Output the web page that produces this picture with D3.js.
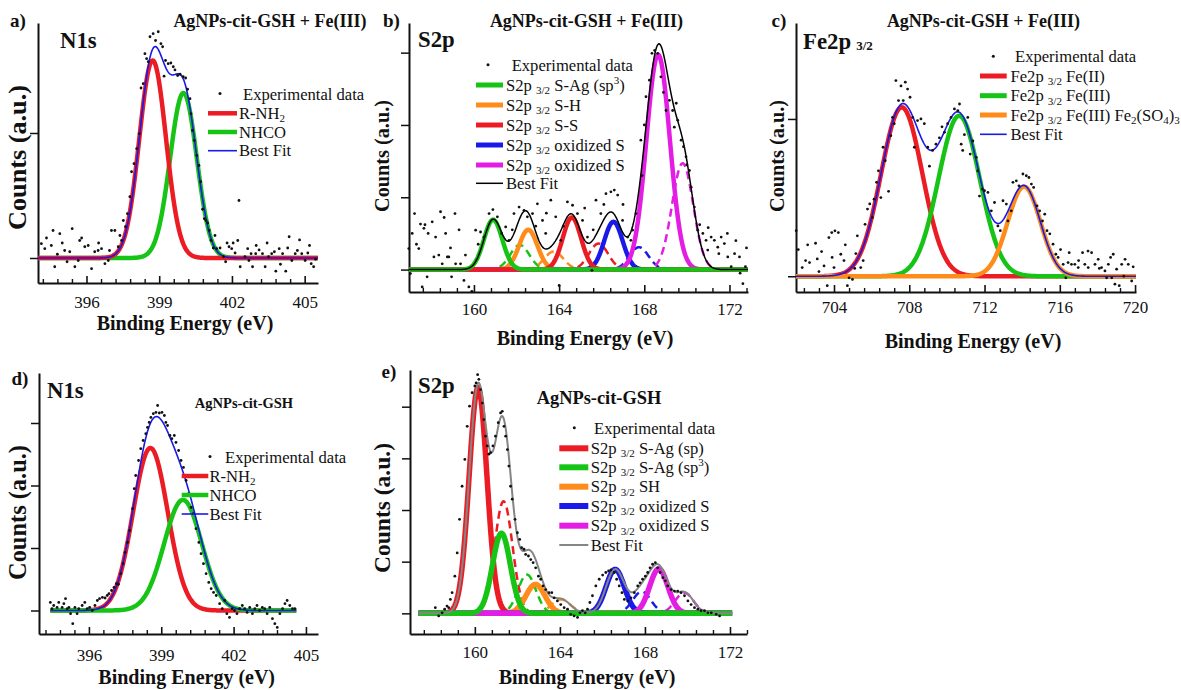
<!DOCTYPE html>
<html><head><meta charset="utf-8">
<script src="https://cdn.jsdelivr.net/npm/d3@7"></script>
<style>
body{margin:0;background:#fff}
svg text{font-family:"Liberation Serif","Times New Roman",serif;fill:#111}
</style>
</head><body>
<svg id="chart" width="1181" height="690"></svg>
<script>
// ---------------- DATA ----------------
// tick labels
const aTicks=[396,399,402,405], aYTicks=[0,1];
const bTicks=[160,164,168,172], bYTicks=[0,1,2,3];
const cTicks=[704,708,712,716,720], cYTicks=[0,1];
const dTicks=[396,399,402,405], dYTicks=[0,1,2,3];
const eTicks=[160,164,168,172], eYTicks=[0,1,2,3,4];

// fitted peaks: [centre (eV), height (a.u.), sigma (eV)]
const aPeaks=[[398.73,1.58,0.55],[400.0,1.32,0.55]];               // R-NH2, NHCO
const bPeaks=[[160.9,0.69,0.43],[162.15,0.34,0.45],                 // S-Ag sp3 (solid, dashed)
              [162.55,0.55,0.43],[163.75,0.25,0.45],                // S-H
              [164.6,0.72,0.43],[165.85,0.36,0.45],                 // S-S
              [166.55,0.66,0.43],[167.75,0.31,0.45],                // oxidized S (blue)
              [168.65,2.97,0.55],[169.8,1.47,0.5]];                 // oxidized S (magenta)
const cPeaks=[[707.6,1.074,1.1],[710.65,1.02,1.1],[714.1,0.57,0.87]]; // Fe(II), Fe(III), Fe2(SO4)3
const dPeaks=[[398.55,2.6,0.72],[399.9,1.77,0.78]];                  // R-NH2, NHCO
const ePeaks=[[160.15,4.37,0.42],[161.35,2.17,0.42],                 // S-Ag sp
              [161.25,1.55,0.42],[162.45,0.75,0.42],                 // S-Ag sp3
              [162.85,0.56,0.45],[164.05,0.27,0.45],                 // SH
              [166.6,0.85,0.43],[167.85,0.42,0.43],                  // oxidized S (blue)
              [168.65,0.86,0.43],[169.85,0.40,0.43]];                // oxidized S (magenta)

// legend labels
const aLegend=["Experimental data","R-NH_{2}","NHCO","Best Fit"];
const bLegend=["Experimental data","S2p _{3/2} S-Ag (sp^{3})","S2p _{3/2} S-H","S2p _{3/2} S-S","S2p _{3/2} oxidized S","S2p _{3/2} oxidized S","Best Fit"];
const cLegend=["Experimental data","Fe2p _{3/2} Fe(II)","Fe2p _{3/2} Fe(III)","Fe2p _{3/2} Fe(III) Fe_{2}(SO_{4})_{3}","Best Fit"];
const dLegend=["Experimental data","R-NH_{2}","NHCO","Best Fit"];
const eLegend=["Experimental data","S2p _{3/2} S-Ag (sp)","S2p _{3/2} S-Ag (sp^{3})","S2p _{3/2} SH","S2p _{3/2} oxidized S","S2p _{3/2} oxidized S","Best Fit"];

// experimental data points [eV, counts a.u.]
const aExp=[[394.14,0.115],[394.28,0.075],[394.35,0.16],[394.55,0.10],[394.62,0.22],[394.69,-0.07],[394.8,0.03],[394.90,0.195],[395.0,0.12],[395.10,0.06],[395.2,-0.03],[395.31,0.05],[395.41,0.235],[395.52,-0.07],[395.66,-0.02],[395.72,0.14],[395.8,0.16],[395.93,0.09],[396.07,0.10],[396.21,-0.085],[396.34,0.05],[396.48,0.06],[396.5,0.12],[396.62,0.075],[396.76,-0.045],[396.90,-0.02],[396.95,0.06],[397.03,0.22],[397.17,0.22],[397.31,0.09],[397.38,0.18],[397.45,0.14],[397.52,0.30],[397.61,0.25],[397.69,0.355],[397.79,0.49],[397.86,0.69],[397.96,0.755],[398.07,0.875],[398.18,0.995],[398.25,1.36],[398.34,1.395],[398.41,1.635],[398.48,1.595],[398.55,1.57],[398.62,1.77],[398.75,1.795],[398.85,1.74],[398.96,1.81],[399.07,1.715],[399.14,1.69],[399.20,1.455],[399.26,1.58],[399.37,1.555],[399.48,1.56],[399.58,1.53],[399.65,1.505],[399.76,1.46],[399.86,1.47],[399.99,1.45],[400.09,1.44],[400.17,1.35],[400.27,1.275],[400.31,1.155],[400.37,1.02],[400.45,0.94],[400.55,0.82],[400.64,0.74],[400.71,0.61],[400.79,0.39],[400.86,0.315],[400.93,0.30],[401.00,0.28],[401.06,0.22],[401.14,0.14],[401.23,0.08],[401.3,0.18],[401.37,0.075],[401.51,0.08],[401.65,0.01],[401.74,-0.03],[401.8,0.12],[401.88,0.09],[401.99,0.075],[402.05,0.12],[402.13,0.04],[402.24,0.14],[402.29,0.46],[402.34,-0.07],[402.54,0.01],[402.65,0.075],[402.7,-0.02],[402.79,0.035],[402.85,-0.07],[402.98,0.035],[403.0,0.1],[403.12,0.065],[403.26,0.035],[403.37,-0.07],[403.45,0.12],[403.51,0.01],[403.64,0.035],[403.75,0.05],[403.81,-0.105],[403.95,0.075],[404.0,-0.05],[404.09,0.035],[404.22,-0.105],[404.3,0.08],[404.36,0.17],[404.47,-0.02],[404.61,0.035],[404.7,0.06],[404.79,0.145],[404.88,0.035],[405.02,-0.02],[405.13,0.04],[405.2,0.1],[405.27,-0.045],[405.37,-0.07],[405.45,-0.01]];
const bExp=[[156.94,0.29],[157.02,-0.055],[157.1,0.5],[157.21,0.775],[157.3,0.35],[157.41,0.29],[157.49,0.63],[157.57,-0.24],[157.65,0.57],[157.7,0.62],[157.80,-0.10],[157.85,0.50],[158.04,0.66],[158.12,0.175],[158.2,0.45],[158.35,0.20],[158.43,0.80],[158.51,0.08],[158.6,0.72],[158.67,0.50],[158.75,0.175],[158.82,0.175],[158.9,0.3],[158.95,-0.10],[159.11,0.775],[159.14,0.08],[159.3,0.55],[159.37,0.08],[159.53,-0.15],[159.6,0.2],[159.76,-0.24],[159.9,-0.3],[160.08,0.545],[160.2,0.35],[160.31,0.52],[160.47,0.45],[160.71,0.775],[160.89,0.83],[161.10,0.73],[161.30,0.50],[161.49,0.59],[161.65,0.405],[161.8,0.55],[161.88,0.775],[162.12,0.865],[162.35,0.82],[162.51,0.73],[162.75,0.775],[162.9,0.6],[162.98,0.91],[163.22,0.68],[163.37,0.50],[163.4,0.78],[163.61,0.96],[163.84,0.73],[164.00,-0.22],[164.08,0.405],[164.2,0.6],[164.39,0.935],[164.63,0.89],[164.86,0.775],[165.10,0.68],[165.2,0.85],[165.33,0.45],[165.54,-0.01],[165.6,0.55],[165.73,0.96],[165.96,0.775],[166.1,0.9],[166.20,1.05],[166.43,1.075],[166.59,1.10],[166.75,1.03],[166.98,0.68],[167.0,0.9],[167.22,0.45],[167.37,0.405],[167.45,0.545],[167.61,0.775],[167.84,1.79],[167.9,1.3],[168.0,2.0],[168.08,2.39],[168.24,2.62],[168.36,2.99],[168.49,3.03],[168.63,2.99],[168.78,2.665],[168.9,2.45],[169.02,2.20],[169.18,2.34],[169.33,2.20],[169.41,1.97],[169.5,2.3],[169.57,2.065],[169.73,1.79],[169.84,1.70],[169.96,1.56],[170.0,1.45],[170.12,1.37],[170.20,1.14],[170.35,0.865],[170.51,0.545],[170.6,0.62],[170.75,0.50],[170.90,0.405],[170.98,0.27],[171.0,0.58],[171.14,0.45],[171.29,0.405],[171.45,0.31],[171.5,0.22],[171.61,0.45],[171.76,0.36],[171.9,0.5],[171.92,0.175],[172.08,0.04],[172.24,0.22],[172.3,0.4],[172.47,0.175],[172.5,-0.05],[172.63,-0.195],[172.75,0.04],[172.8,0.3]];
const cExp=[[701.99,0.29],[702.10,0.17],[702.31,0.055],[702.49,0.10],[702.6,0.2],[702.70,0.087],[703.02,0.21],[703.11,0.11],[703.2,0.03],[703.34,0.157],[703.47,0.066],[703.64,-0.06],[703.73,0.246],[703.88,0.278],[703.9,0.12],[704.00,0.055],[704.05,0.289],[704.23,0.278],[704.36,0.14],[704.53,0.10],[704.6,0.2],[704.71,-0.06],[704.80,-0.01],[704.98,-0.02],[705.1,0.05],[705.16,0.144],[705.24,0.257],[705.42,0.055],[705.55,0.10],[705.65,0.33],[705.78,0.427],[705.90,0.46],[706.04,0.374],[706.13,0.49],[706.26,0.597],[706.36,0.67],[706.49,0.50],[706.61,0.82],[706.72,0.735],[706.90,0.54],[707.02,0.894],[707.11,1.01],[707.20,0.97],[707.29,1.244],[707.43,1.117],[707.56,1.21],[707.68,1.117],[707.79,1.234],[707.91,1.19],[708.04,1.138],[708.18,1.01],[708.27,0.82],[708.44,0.99],[708.62,1.00],[708.80,0.97],[708.98,0.82],[709.07,0.70],[709.24,0.80],[709.42,0.84],[709.60,0.88],[709.74,0.95],[709.87,0.915],[710.04,0.97],[710.22,1.01],[710.40,1.064],[710.58,1.053],[710.67,1.095],[710.76,0.84],[710.84,0.80],[710.93,0.90],[711.11,1.01],[711.24,0.777],[711.38,0.86],[711.56,0.756],[711.64,0.67],[711.73,0.51],[711.88,0.554],[712.00,0.544],[712.18,0.533],[712.36,0.416],[712.53,0.469],[712.71,0.32],[712.84,0.29],[712.98,0.48],[713.16,0.459],[713.24,0.352],[713.42,0.416],[713.51,0.597],[713.69,0.607],[713.83,0.575],[714.04,0.65],[714.22,0.639],[714.36,0.628],[714.49,0.586],[714.61,0.565],[714.79,0.448],[714.93,0.416],[715.08,0.352],[715.20,0.395],[715.32,0.29],[715.47,0.27],[715.64,0.204],[715.79,0.14],[715.91,0.12],[716.04,0.17],[716.18,0.076],[716.32,-0.01],[716.44,0.087],[716.5,0.15],[716.62,0.076],[716.80,0.076],[716.98,0.055],[717.0,0.1],[717.21,0.15],[717.33,0.076],[717.5,0.16],[717.51,0.055],[717.69,0.15],[717.87,0.076],[718.04,0.108],[718.1,0.05],[718.22,0.055],[718.40,0.034],[718.49,-0.01],[718.58,0.076],[718.7,0.12],[718.76,-0.01],[718.84,0.14],[718.93,-0.05],[719.02,0.045],[719.16,-0.06],[719.29,0.076],[719.4,0.0],[719.47,0.108],[719.64,0.076],[719.82,-0.03],[719.9,0.06]];
const dExp=[[394.40,0.13],[394.47,0.03],[394.54,0.08],[394.68,0.05],[394.75,0.13],[394.89,0.05],[394.96,0.11],[395.03,0.19],[395.10,0.03],[395.17,0.05],[395.24,-0.05],[395.33,-0.21],[395.42,0.05],[395.51,-0.05],[395.58,0.03],[395.72,0.08],[395.83,0.13],[395.93,0.03],[396.03,0.05],[396.14,0.0],[396.25,0.08],[396.35,0.16],[396.44,0.19],[396.56,0.21],[396.67,0.20],[396.76,0.24],[396.83,0.27],[396.94,0.32],[397.04,0.37],[397.14,0.43],[397.22,0.42],[397.32,0.59],[397.42,0.75],[397.50,0.93],[397.60,1.09],[397.69,1.28],[397.81,1.63],[397.88,1.95],[397.94,2.16],[398.06,2.40],[398.15,2.59],[398.25,2.72],[398.36,2.83],[398.43,2.93],[398.50,3.01],[398.57,3.09],[398.67,3.15],[398.78,3.17],[398.85,3.28],[398.92,3.16],[399.03,3.17],[399.13,3.12],[399.19,3.01],[399.26,2.96],[399.36,2.80],[399.44,2.75],[399.54,2.80],[399.61,2.69],[399.72,2.56],[399.82,2.40],[399.92,2.29],[400.03,2.08],[400.14,1.87],[400.24,1.65],[400.33,1.55],[400.44,1.31],[400.56,1.09],[400.65,0.91],[400.75,0.75],[400.86,0.59],[400.97,0.45],[401.07,0.35],[401.17,0.29],[401.28,0.24],[401.42,0.11],[401.53,0.03],[401.63,0.16],[401.72,-0.05],[401.83,-0.11],[401.94,0.03],[402.04,0.0],[402.14,-0.05],[402.25,0.03],[402.36,0.08],[402.46,0.03],[402.56,-0.03],[402.67,0.05],[402.78,-0.05],[402.88,0.03],[402.97,0.08],[403.08,0.0],[403.19,0.05],[403.29,0.03],[403.39,-0.05],[403.50,0.05],[403.61,-0.13],[403.71,-0.21],[403.81,-0.27],[403.92,-0.05],[404.03,0.03],[404.13,0.11],[404.22,0.16],[404.33,0.08],[404.44,0.03],[404.54,0.03]];
const eExp=[[158.14,0.11],[158.30,-0.05],[158.46,0.01],[158.58,0.08],[158.69,0.14],[158.77,0.11],[158.85,0.27],[158.93,0.40],[159.06,0.72],[159.17,1.17],[159.28,1.82],[159.40,2.46],[159.53,2.98],[159.64,3.62],[159.75,4.01],[159.87,4.27],[160.00,4.40],[160.06,4.46],[160.13,4.62],[160.19,4.53],[160.27,4.33],[160.35,4.07],[160.42,3.75],[160.50,3.43],[160.58,3.24],[160.66,3.08],[160.74,3.11],[160.85,3.24],[160.97,3.43],[161.10,3.69],[161.21,3.88],[161.29,3.91],[161.37,3.62],[161.45,3.43],[161.53,3.17],[161.60,2.85],[161.68,2.46],[161.76,2.21],[161.89,1.82],[162.00,1.56],[162.11,1.43],[162.20,1.27],[162.31,1.24],[162.39,1.14],[162.52,1.11],[162.63,1.04],[162.74,0.98],[162.86,0.88],[162.99,0.72],[163.10,0.66],[163.21,0.53],[163.33,0.46],[163.49,0.40],[163.62,0.40],[163.73,0.30],[163.88,0.24],[164.04,0.17],[164.20,0.11],[164.36,0.08],[164.51,-0.02],[164.67,-0.05],[164.83,-0.08],[164.94,0.01],[165.06,0.05],[165.19,0.01],[165.30,0.08],[165.41,0.21],[165.53,0.34],[165.69,0.53],[165.85,0.66],[166.01,0.74],[166.16,0.79],[166.29,0.82],[166.40,0.84],[166.56,0.79],[166.67,0.66],[166.79,0.53],[166.92,0.40],[167.03,0.27],[167.19,0.24],[167.34,0.30],[167.50,0.40],[167.66,0.53],[167.77,0.59],[167.89,0.66],[168.02,0.72],[168.13,0.79],[168.24,0.88],[168.36,0.95],[168.49,0.98],[168.60,0.88],[168.71,0.79],[168.84,0.69],[168.96,0.63],[169.07,0.53],[169.23,0.46],[169.39,0.43],[169.54,0.43],[169.70,0.40],[169.86,0.34],[170.02,0.24],[170.17,0.17],[170.33,0.11],[170.49,0.08],[170.64,0.05],[170.80,0.05],[170.96,0.01],[171.12,0.01],[171.35,-0.02],[171.51,-0.05]];

// ---------------- STYLE / LAYOUT ----------------
const RED="#ec1c24", GREEN="#16c416", ORANGE="#ff8c1a", BLUE="#1a1ae8", MAG="#e31de3";

const panels=[
 {letter:"a)",lx:10,ly:27, elem:"N1s",ex:60,ey:48, title:"AgNPs-cit-GSH + Fe(III)",tx:270,ty:27,tsize:18,
  xDom:[394.0,405.55],left:38,right:318,yDom:[-0.2,1.88],top:23,bottom:283,
  ticks:aTicks,minorStep:0.6,yTicks:aYTicks,pad:12.9,
  peaks:aPeaks,exp:aExp,curve:[394.0,405.55],
  comps:[{i:1,c:GREEN,w:4.5},{i:0,c:RED,w:4.5}],fit:{c:BLUE,w:1.6},
  xl:{x:185,y:330},yl:{x:26,y:157.5,len:145,size:26},
  leg:{labels:aLegend,rows:[94,113.3,132,150.7],dotX:220,dotTX:243,x0:208,x1:237,tx:239,
       styles:[{c:RED,w:4.5},{c:GREEN,w:4.5},{c:BLUE,w:1.6}]}},
 {letter:"b)",lx:383,ly:27, elem:"S2p",ex:418,ey:47, title:"AgNPs-cit-GSH + Fe(III)",tx:586.5,ty:27,tsize:18,
  xDom:[156.95,172.87],left:409,right:748,yDom:[-0.31,3.41],top:23,bottom:292,
  ticks:bTicks,minorStep:0.8,yTicks:bYTicks,pad:10.9,
  peaks:bPeaks,exp:bExp,curve:[156.95,172.87],
  comps:[{i:1,c:GREEN,w:2.5,d:true},{i:3,c:ORANGE,w:2.5,d:true},{i:5,c:RED,w:2.5,d:true},{i:7,c:BLUE,w:2.5,d:true},{i:9,c:MAG,w:2.5,d:true},
         {i:2,c:ORANGE,w:4.5},{i:6,c:BLUE,w:4.5},{i:8,c:MAG,w:4.5},{i:4,c:RED,w:4.5},{i:0,c:GREEN,w:4.5}],
  fit:{c:"#000",w:1.5},
  xl:{x:585,y:345},yl:{x:389,y:156,len:112,size:20.3},
  leg:{labels:bLegend,rows:[65.3,85,105,125,145,165,183.3],dotX:488,dotTX:511.7,x0:476,x1:503,tx:506,
       styles:[{c:GREEN,w:5},{c:ORANGE,w:5},{c:RED,w:5},{c:BLUE,w:5},{c:MAG,w:5},{c:"#000",w:1.5}]}},
 {letter:"c)",lx:771.5,ly:27, elem:"Fe2p",ex:803,ey:49, elemSub:"3/2", title:"AgNPs-cit-GSH + Fe(III)",tx:983.5,ty:27,tsize:18,
  xDom:[701.98,720.05],left:796,right:1136,yDom:[-0.10,1.61],top:23,bottom:292,
  ticks:cTicks,minorStep:0.8,yTicks:cYTicks,pad:8.9,
  peaks:cPeaks,exp:cExp,curve:[701.98,720.05],
  comps:[{i:0,c:RED,w:4.5},{i:1,c:GREEN,w:4.5},{i:2,c:ORANGE,w:4.5}],fit:{c:BLUE,w:1.6},
  xl:{x:973,y:348},yl:{x:784,y:156,len:112,size:20.3},
  leg:{labels:cLegend,rows:[56.7,76,95.7,115,134.3],dotX:993.3,dotTX:1015,x0:980,x1:1006.7,tx:1010.5,
       styles:[{c:RED,w:5},{c:GREEN,w:5},{c:ORANGE,w:5},{c:BLUE,w:1.6}]}},
 {letter:"d)",lx:11.5,ly:385, elem:"N1s",ex:47,ey:398, title:"AgNPs-cit-GSH",tx:244,ty:407.5,tsize:14.5,
  xDom:[393.93,405.5],left:39,right:318,yDom:[-0.376,3.8],top:373,bottom:634,
  ticks:dTicks,minorStep:0.6,yTicks:dYTicks,pad:14.9,
  peaks:dPeaks,exp:dExp,curve:[394.4,404.6],
  comps:[{i:0,c:RED,w:4.5},{i:1,c:GREEN,w:4.5}],fit:{c:BLUE,w:1.6},
  xl:{x:186.7,y:684},yl:{x:26,y:512.5,len:135,size:24.4},
  leg:{labels:dLegend,rows:[457,476,495,514],dotX:210,dotTX:225,x0:181.7,x1:208.3,tx:209.5,
       styles:[{c:RED,w:4.5},{c:GREEN,w:4.5},{c:BLUE,w:1.6}]}},
 {letter:"e)",lx:381.5,ly:378, elem:"S2p",ex:418,ey:393, title:"AgNPs-cit-GSH",tx:599,ty:404,tsize:18.4,
  xDom:[156.95,172.8],left:410,right:747,yDom:[-0.40,4.71],top:370,bottom:634,
  ticks:eTicks,minorStep:0.8,yTicks:eYTicks,pad:11.9,
  peaks:ePeaks,exp:eExp,curve:[157.35,172.1],
  comps:[{i:1,c:RED,w:2.5,d:true},{i:3,c:GREEN,w:2.5,d:true},{i:5,c:ORANGE,w:2.5,d:true},{i:7,c:BLUE,w:2.5,d:true},{i:9,c:MAG,w:2.5,d:true},
         {i:0,c:RED,w:5.5},{i:4,c:ORANGE,w:5.5},{i:6,c:BLUE,w:5.5},{i:8,c:MAG,w:5.5},{i:2,c:GREEN,w:5.5}],
  fit:{c:"#858585",w:2},
  xl:{x:587,y:684},yl:{x:390,y:508,len:130,size:23.5},
  leg:{labels:eLegend,rows:[428.3,448.3,467.3,486.7,506,525.7,545],dotX:574.3,dotTX:594,x0:559.3,x1:588.3,tx:590.7,
       styles:[{c:RED,w:6},{c:GREEN,w:6},{c:ORANGE,w:6},{c:BLUE,w:6},{c:MAG,w:6},{c:"#858585",w:2}]}}
];

const svg=d3.select("#chart");

function gauss(p,v){return p[1]*Math.exp(-((v-p[0])**2)/(2*p[2]*p[2]));}

function rich(sel,str,size,subSize){
  const parts=str.split(/(_\{[^}]*\}|\^\{[^}]*\})/).filter(s=>s.length);
  let shift=0;
  parts.forEach(s=>{
    let target=0,txt=s,fs=size;
    if(s.startsWith("_{")){target=size*0.22;txt=s.slice(2,-1);fs=subSize;}
    else if(s.startsWith("^{")){target=-size*0.38;txt=s.slice(2,-1);fs=subSize;}
    sel.append("tspan").attr("dy",(target-shift).toFixed(2)).attr("font-size",fs).text(txt);
    shift=target;
  });
}

panels.forEach(P=>{
  const g=svg.append("g");
  const x=d3.scaleLinear().domain(P.xDom).range([P.left,P.right]);
  const y=d3.scaleLinear().domain(P.yDom).range([P.bottom,P.top]);

  // minor ticks
  const first=P.ticks[0], step=P.minorStep;
  const minor=[];
  for(let k=Math.ceil((P.xDom[0]-first)/step-1e-6);first+k*step<=P.xDom[1]+1e-6;k++){
    const v=+(first+k*step).toFixed(3);
    if(!P.ticks.some(t=>Math.abs(t-v)<1e-6)) minor.push(v);
  }
  const gMin=g.append("g").attr("transform",`translate(0,${P.bottom})`)
    .call(d3.axisBottom(x).tickValues(minor).tickSize(-4).tickFormat("").tickSizeOuter(0));
  gMin.select(".domain").remove();
  gMin.selectAll("line").attr("stroke","#111").attr("stroke-width",1.4);

  const gMaj=g.append("g").attr("transform",`translate(0,${P.bottom})`)
    .call(d3.axisBottom(x).tickValues(P.ticks).tickSize(-7).tickPadding(P.pad).tickFormat(d3.format("d")).tickSizeOuter(0));
  gMaj.select(".domain").attr("stroke","#111").attr("stroke-width",2);
  gMaj.selectAll("line").attr("stroke","#111").attr("stroke-width",1.6);
  gMaj.selectAll("text").attr("font-size",17).attr("fill","#111");

  const gY=g.append("g").attr("transform",`translate(${P.left},0)`)
    .call(d3.axisLeft(y).tickValues(P.yTicks).tickSize(8).tickFormat("").tickSizeOuter(0));
  gY.select(".domain").attr("stroke","#111").attr("stroke-width",2);
  gY.selectAll("line").attr("stroke","#111").attr("stroke-width",1.5);

  // curves
  const grid=d3.range(P.curve[0],P.curve[1]+1e-9,(P.curve[1]-P.curve[0])/600);
  const line=d3.line().x(d=>x(d[0])).y(d=>y(d[1]));
  P.comps.forEach(c=>{
    const pk=P.peaks[c.i];
    g.append("path").datum(grid.map(v=>[v,gauss(pk,v)])).attr("d",line)
      .attr("fill","none").attr("stroke",c.c).attr("stroke-width",c.w)
      .attr("stroke-dasharray",c.d?"8,5":null).attr("stroke-linejoin","round");
  });
  g.append("path").datum(grid.map(v=>[v,d3.sum(P.peaks,pk=>gauss(pk,v))])).attr("d",line)
    .attr("fill","none").attr("stroke",P.fit.c).attr("stroke-width",P.fit.w);

  // experimental points
  g.append("g").selectAll("circle").data(P.exp).join("circle")
    .attr("cx",d=>x(d[0])).attr("cy",d=>y(d[1])).attr("r",1.4).attr("fill","#111");

  // texts
  g.append("text").attr("x",P.lx).attr("y",P.ly).attr("font-size",19).attr("font-weight","bold").text(P.letter);
  const el=g.append("text").attr("x",P.ex).attr("y",P.ey).attr("font-size",22.8).attr("font-weight","bold");
  el.append("tspan").text(P.elem);
  if(P.elemSub) el.append("tspan").attr("font-size",13).attr("dx",5).attr("dy",1).text(P.elemSub);
  g.append("text").attr("x",P.tx).attr("y",P.ty).attr("text-anchor","middle").attr("font-size",P.tsize).attr("font-weight","bold").text(P.title);
  g.append("text").attr("x",P.xl.x).attr("y",P.xl.y).attr("text-anchor","middle").attr("font-size",20).attr("font-weight","bold").text("Binding Energy (eV)");
  g.append("text").attr("transform",`translate(${P.yl.x},${P.yl.y}) rotate(-90)`).attr("text-anchor","middle")
    .attr("font-size",P.yl.size).attr("font-weight","bold").attr("textLength",P.yl.len).attr("lengthAdjust","spacingAndGlyphs").text("Counts (a.u.)");

  // legend
  const L=P.leg;
  g.append("circle").attr("cx",L.dotX).attr("cy",L.rows[0]-0.5).attr("r",1.5).attr("fill","#111");
  g.append("text").attr("x",L.dotTX).attr("y",L.rows[0]+5.5).attr("font-size",16.6).text(L.labels[0]);
  L.labels.slice(1).forEach((lab,k)=>{
    const ry=L.rows[k+1], st=L.styles[k];
    g.append("line").attr("x1",L.x0).attr("x2",L.x1).attr("y1",ry).attr("y2",ry).attr("stroke",st.c).attr("stroke-width",st.w);
    const t=g.append("text").attr("x",L.tx).attr("y",ry+5.5).attr("font-size",16.6);
    rich(t,lab,16.6,11);
  });
});
</script>
</body></html>
